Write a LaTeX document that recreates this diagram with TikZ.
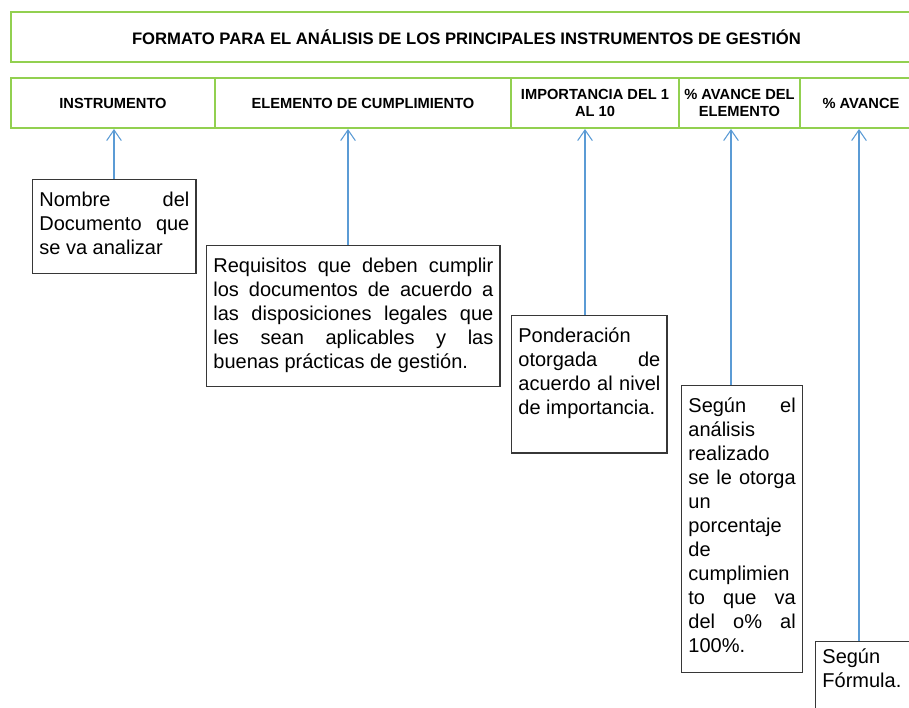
\documentclass[tikz,border=0pt]{standalone}
\usepackage{fontspec}
\setmainfont{Liberation Sans}
\usepackage{tikz}
\usetikzlibrary{arrows.meta,positioning}
\definecolor{hdrgreen}{RGB}{146,208,80}
\definecolor{arrowblue}{RGB}{91,155,213}
\definecolor{boxgray}{RGB}{55,55,55}
\newcommand{\lowdepth}[1]{\rule[-#1]{0pt}{0pt}}
\tikzset{
hdr/.style={draw=hdrgreen, line width=1.5pt, anchor=north west, minimum height=37.5pt,
  align=center, inner sep=1pt, font=\bfseries\fontsize{11pt}{12.5pt}\selectfont},
note/.style={draw=boxgray, line width=1.1pt, anchor=north west, align=justify,
  inner xsep=5pt, inner ysep=9pt, font=\fontsize{15pt}{18pt}\selectfont},
arr/.style={draw=arrowblue, line width=0.8pt, -{Straight Barb[length=8pt,width=11pt]}}
}
\begin{document}
\begin{tikzpicture}[x=0.75pt,y=-0.75pt]
\useasboundingbox (0,0) rectangle (909,707);
\clip (0,0) rectangle (909,707);
% title and header row
\node[hdr, minimum width=683.25pt, font=\bfseries\fontsize{12.5pt}{14pt}\selectfont] (title) at (10,11)
  {FORMATO PARA EL ANÁLISIS DE LOS PRINCIPALES INSTRUMENTOS DE GESTIÓN};
\node[hdr, minimum width=153pt] (h1) at (10,77) {INSTRUMENTO};
\node[hdr, minimum width=222pt] (h2) at (214,77) {ELEMENTO DE CUMPLIMIENTO};
\node[hdr, minimum width=126pt] (h3) at (510,77) {IMPORTANCIA DEL 1\\AL 10};
\node[hdr, minimum width=90.75pt] (h4) at (678,77) {\% AVANCE DEL\\ELEMENTO};
\node[hdr, minimum width=91.5pt] (h5) at (799,77) {\% AVANCE};
% notes
\node[note, text width=112.5pt] (b1) at (32,179)
  {Nombre del\linebreak Documento que\linebreak se va analizar\lowdepth{5.5pt}};
\node[note, text width=210pt] (b2) at (206,245)
  {Requisitos que deben cumplir\linebreak los documentos de acuerdo a\linebreak
   las disposiciones legales que\linebreak les sean aplicables y las\linebreak
   buenas prácticas de gestión.\lowdepth{4.5pt}};
\node[note, text width=106.5pt] (b3) at (511,315)
  {Ponderación\\ otorgada de\linebreak acuerdo al nivel\linebreak de importancia.\lowdepth{20pt}};
\node[note, text width=80.5pt] (b4) at (681,385)
  {Según el\linebreak análisis\\ realizado\\ se le otorga\linebreak un\\ porcentaje\\ de\\
   cumplimien\\ to que va\linebreak del o\% al\linebreak 100\%.\lowdepth{6pt}};
\node[note, text width=80.5pt, inner ysep=5pt] (b5) at (815,641)
  {Según\\ Fórmula.\lowdepth{30pt}};
% connectors
\foreach \x/\b/\h in {114/b1/h1,348/b2/h2,585/b3/h3,731/b4/h4,859/b5/h5}
  \draw[arr] (\x,0 |- \b.north) -- (\x,0 |- \h.south);
\end{tikzpicture}
\end{document}
